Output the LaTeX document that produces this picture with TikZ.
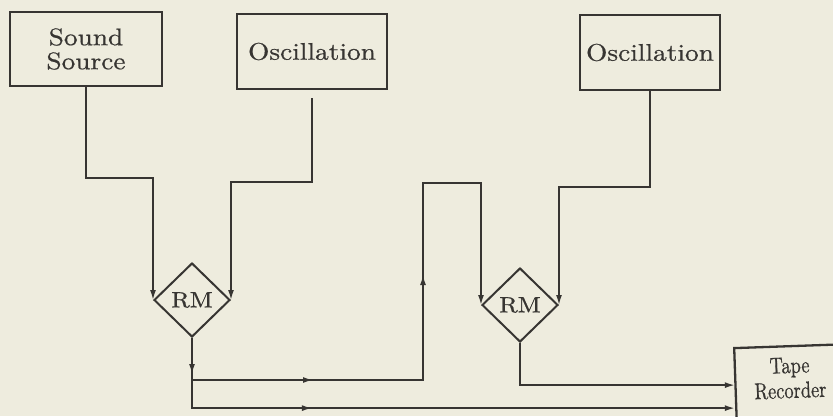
\documentclass[tikz,border=0pt]{standalone}
\usepackage{fontspec}
\usetikzlibrary{shapes.geometric,arrows.meta,decorations.markings}
\newfontfamily\diagfont{lmroman10-regular.otf}[FakeStretch=1.14, FakeBold=0.6]
\newfontfamily\tapefont{lmroman10-regular.otf}[FakeStretch=0.8, FakeBold=0.6]
\definecolor{paper}{RGB}{238,236,222}
\definecolor{ink}{RGB}{55,53,50}
\tikzset{
  box/.style={rectangle, draw=ink, line width=2.3pt, text=ink, align=center, inner sep=0pt},
  rmbox/.style={diamond, draw=ink, line width=2pt, text=ink, inner sep=0pt,
    minimum width=76pt, minimum height=74pt, font=\diagfont\fontsize{22}{22}\selectfont},
  wire/.style={draw=ink, color=ink, line width=1.6pt},
  tip/.style={-{Latex[length=10pt,width=6pt]}},
  midtip/.style={postaction={decorate}, decoration={markings,
    mark=at position #1 with {\arrow{Latex[length=10pt,width=6pt]}}}},
  twotips/.style 2 args={postaction={decorate}, decoration={markings,
    mark=at position #1 with {\arrow{Latex[length=10pt,width=6pt]}},
    mark=at position #2 with {\arrow{Latex[length=10pt,width=6pt]}}}},
}
\begin{document}
\begin{tikzpicture}[x=1pt, y=-1pt, font=\diagfont\fontsize{24}{24}\selectfont]
\useasboundingbox (0,0) rectangle (833,416);
\fill[paper] (0,0) rectangle (833,416);
\clip (0,0) rectangle (833,416);

% sources
\node[box, minimum width=152pt, minimum height=74pt] (src) at (86,49) {Sound\\Source};
\node[box, minimum width=150pt, minimum height=75pt] (osc1) at (312,51.5) {Oscillation};
\node[box, minimum width=140pt, minimum height=75pt] (osc2) at (650,52.5) {Oscillation};

% ring modulators
\node[rmbox] (rm1) at (192,300) {RM};
\node[rmbox] (rm2) at (520,305) {RM};

% recorder, slightly skewed on the page
\node[box, anchor=north west, rotate=2, minimum width=130pt, minimum height=100pt] (tape) at (733,347) {};
\node[text=ink, align=center, rotate=2, font=\tapefont\fontsize{23}{25}\selectfont] (tapetext) at (790,378) {Tape\\Recorder};

% bend points
\coordinate (b1) at (120,178);
\coordinate (b2) at (270,182);
\coordinate (j1) at (192,380);
\coordinate (up1) at (423,183);
\coordinate (b3) at (600,187);

% into the first RM
\draw[wire, tip] (src.south) |- (b1) -| (rm1.west);
\draw[wire, tip] ([yshift=-8pt]osc1.south) |- (b2) -| (rm1.east);

% out of the first RM
\draw[wire, midtip=36pt] (rm1.south) -- (j1);
\draw[wire, tip, twotips={121pt}{336pt}] (j1) -| (up1) -| (rm2.west);
\draw[wire, tip, midtip=148pt] (j1) |- ([yshift=-10pt]tape.west);

% into the second RM
\draw[wire, tip] (osc2.south) |- (b3) -| (rm2.east);

% out of the second RM
\draw[wire, tip] (rm2.south) |- ([yshift=13pt]tape.west);
\end{tikzpicture}
\end{document}
